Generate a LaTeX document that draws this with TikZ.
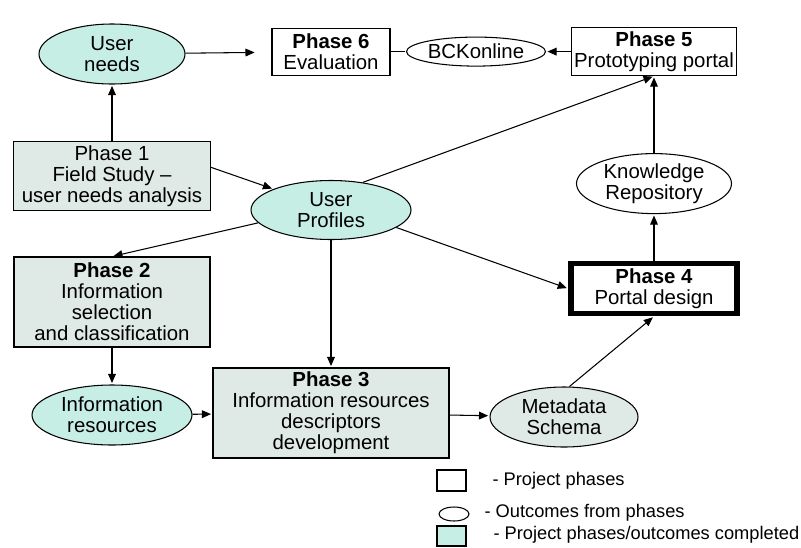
\documentclass[tikz,border=0pt]{standalone}
\usepackage{fontspec}
\setmainfont{Liberation Sans}
\usetikzlibrary{positioning,shapes.geometric,arrows.meta}
\definecolor{donebox}{HTML}{DFE9E6}
\definecolor{doneout}{HTML}{C6EEE4}

\begin{document}
\begin{tikzpicture}[shorten >=1 pt, node distance = 3 cm, on
grid, auto, line width=0.75pt, >={Triangle[length=6.5pt,width=5.5pt]},
phase/.style={draw, rectangle, align=center, inner sep=0pt, font=\fontsize{14.5}{14.9}\selectfont},
outcome/.style={draw, ellipse, align=center, inner sep=0pt, font=\fontsize{14.5}{14.9}\selectfont},
legend/.style={anchor=west, inner sep=0pt, font=\fontsize{13}{14}\selectfont}]
\useasboundingbox (0,0) rectangle (20.025,-13.675);
\node [phase, fill=donebox, minimum width=4.925cm, minimum height=1.725cm] (ph_1) at (2.8,-4.4) {Phase 1\\Field Study --\\user needs analysis};
\node [outcome, fill=doneout, minimum width=3.65cm, minimum height=1.5cm] (o_needs) [above = 3.05cm of ph_1] {User\\needs};
\node [outcome, fill=doneout, minimum width=4cm, minimum height=1.475cm] (o_prof) [below right = 0.85cm and 5.475cm of ph_1] {User\\Profiles};
\node [phase, fill=donebox, minimum width=4.9cm, minimum height=2.25cm] (ph_2) [below = 3.15cm of ph_1] {\textbf{Phase 2}\\Information\\selection\\and classification};
\node [outcome, fill=doneout, minimum width=4cm, minimum height=1.5cm] (o_info) [below = 2.825cm of ph_2] {Information\\resources};
\node [phase, fill=donebox, minimum width=5.9cm, minimum height=2.25cm] (ph_3) [below = 5.075cm of o_prof] {\textbf{Phase 3}\\Information resources\\descriptors\\development};
\node [outcome, fill=donebox, minimum width=3.7cm, minimum height=1.5cm] (o_meta) [below right = 0.1cm and 5.825cm of ph_3] {Metadata\\Schema};
\node [phase, minimum width=2.95cm, minimum height=1.175cm] (ph_6) [above = 3.96cm of o_prof] {\textbf{Phase 6}\\Evaluation};
\node [outcome, minimum width=3.475cm, minimum height=0.725cm] (o_bck) [right = 3.625cm of ph_6] {BCKonline};
\node [phase, minimum width=4.125cm, minimum height=1.2cm] (ph_5) [right = 4.45cm of o_bck] {\textbf{Phase 5}\\Prototyping portal};
\node [outcome, minimum width=3.875cm, minimum height=1.5cm] (o_know) [below = 3.3cm of ph_5] {Knowledge\\Repository};
\node [phase, line width=4pt, minimum width=4.15cm, minimum height=1.25cm] (ph_4) [below = 2.625cm of o_know] {\textbf{Phase 4}\\Portal design};
\path [->]
(ph_1) edge (o_needs)
(ph_1.5) edge (o_prof.160)
(o_needs) edge [shorten >=12pt] (ph_6)
(ph_6) edge [-] (o_bck)
(ph_5) edge (o_bck)
(o_prof.41) edge (ph_5.south)
(o_know) edge (ph_5)
(ph_4) edge (o_know)
(o_prof.190) edge (ph_2.north)
(o_prof) edge (ph_3)
(o_prof.345) edge (ph_4.west)
(ph_2) edge (o_info)
(o_info) edge (ph_3)
(ph_3) edge (o_meta)
(o_meta.80) edge (ph_4.south);
% legend
\node [draw, rectangle, minimum width=0.725cm, minimum height=0.525cm] (lg_phase) at (11.2875,-12.0125) {};
\node [draw, ellipse, minimum width=0.75cm, minimum height=0.35cm] (lg_out) at (11.35,-12.85) {};
\node [draw, rectangle, fill=doneout, minimum width=0.725cm, minimum height=0.5cm] (lg_done) at (11.2875,-13.4) {};
\node [legend] (lg_phase_t) at (12.3,-12.025) {- Project phases};
\node [legend] (lg_out_t) at (12.1,-12.825) {- Outcomes from phases};
\node [legend] (lg_done_t) at (12.325,-13.375) {- Project phases/outcomes completed};
\end{tikzpicture}
\end{document}
